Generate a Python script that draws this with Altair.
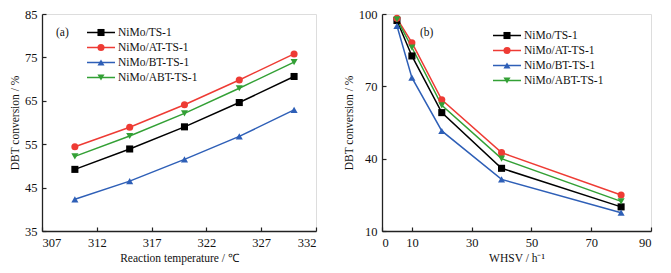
import altair as alt
import pandas as pd

# ---- data ----
series = ["NiMo/TS-1", "NiMo/AT-TS-1", "NiMo/BT-TS-1", "NiMo/ABT-TS-1"]
colors = ["#000000", "#ee3b34", "#2e5fb7", "#33a035"]
shapes = ["square", "circle", "triangle-up", "triangle-down"]

temps = [310, 315, 320, 325, 330]
ts1_a = [49.2, 53.9, 59.0, 64.6, 70.6]
at_a = [54.4, 58.9, 64.1, 69.8, 75.8]
bt_a = [42.3, 46.5, 51.5, 56.8, 62.9]
abt_a = [52.2, 56.9, 62.1, 67.9, 73.9]

whsv = [5, 10, 20, 40, 80]
ts1_b = [97.3, 82.6, 59.1, 36.0, 20.0]
at_b = [98.2, 88.1, 64.4, 42.5, 24.9]
bt_b = [95.1, 73.6, 51.5, 31.4, 17.6]
abt_b = [97.8, 86.1, 62.1, 40.0, 22.3]

xticks_a = [307, 312, 317, 322, 327, 332]
yticks_a = [35, 45, 55, 65, 75, 85]
xticks_b = [0, 10, 30, 50, 70, 90]
yticks_b = [10, 40, 70, 100]

FONT = "Liberation Serif"
W_A, W_B, H = 274, 269, 217


def long_df(xs, ys_list):
    rows = []
    for name, ys in zip(series, ys_list):
        for x, y in zip(xs, ys):
            rows.append({"x": x, "y": y, "name": name})
    return pd.DataFrame(rows)


df_a = long_df(temps, [ts1_a, at_a, bt_a, abt_a])
df_b = long_df(whsv, [ts1_b, at_b, bt_b, abt_b])
legend_df = pd.DataFrame({"name": series, "row": list(range(len(series)))})

color_scale = alt.Scale(domain=series, range=colors)
shape_scale = alt.Scale(domain=series, range=shapes)


def axis(title, values, orient, height):
    dash = [4, 1000] if orient == "left" else [0, height - 4, 4, 1000]
    return alt.Axis(
        title=title, values=values, orient=orient, ticks=False,
        grid=True, gridDash=dash, gridColor="#222222", gridOpacity=1, gridWidth=1.2,
        domainColor="#222222", domainWidth=1.3,
        labelFont=FONT, labelFontSize=12.5, labelColor="#111111", labelPadding=5,
        titleFont=FONT, titleFontSize=11.5, titleFontWeight="normal", titleColor="#111111",
        titlePadding=4,
    )


def panel(df, xdom, xvals, ydom, yvals, xtitle, tag, w, leg_x, leg_y0, tag_x):
    base = alt.Chart(df)
    xenc = alt.X("x:Q", scale=alt.Scale(domain=xdom, nice=False, zero=False),
                 axis=axis(xtitle, xvals, "bottom", H))
    yenc = alt.Y("y:Q", scale=alt.Scale(domain=ydom, nice=False, zero=False),
                 axis=axis("DBT conversion / %", yvals, "left", H))
    lines = base.mark_line(strokeWidth=1.5).encode(
        x=xenc, y=yenc,
        color=alt.Color("name:N", scale=color_scale, legend=None),
        order=alt.Order("x:Q"),
    )
    pts = base.mark_point(filled=True, size=50, opacity=1).encode(
        x=xenc, y=yenc,
        color=alt.Color("name:N", scale=color_scale, legend=None),
        shape=alt.Shape("name:N", scale=shape_scale, legend=None),
    )
    main = alt.layer(lines, pts)

    ly = alt.Y("row:Q", scale=alt.Scale(domain=[0, 3], range=[leg_y0, leg_y0 + 45]), axis=None)
    lbase = alt.Chart(legend_df)
    lrule = lbase.mark_rule(strokeWidth=1.5).encode(
        x=alt.value(leg_x), x2=alt.value(leg_x + 28), y=ly,
        color=alt.Color("name:N", scale=color_scale, legend=None),
    )
    lpt = lbase.mark_point(filled=True, size=50, opacity=1).encode(
        x=alt.value(leg_x + 14), y=ly,
        color=alt.Color("name:N", scale=color_scale, legend=None),
        shape=alt.Shape("name:N", scale=shape_scale, legend=None),
    )
    ltxt = lbase.mark_text(align="left", baseline="middle", font=FONT, fontSize=11.5,
                           color="#111111").encode(
        x=alt.value(leg_x + 31), y=ly, text="name:N",
    )
    tagtxt = alt.Chart(pd.DataFrame({"t": [tag]})).mark_text(
        align="left", baseline="middle", font=FONT, fontSize=11.5, color="#111111"
    ).encode(x=alt.value(tag_x), y=alt.value(19), text="t:N")
    legend = alt.layer(lrule, lpt, ltxt, tagtxt)

    return alt.layer(main, legend).resolve_scale(y="independent").properties(width=w, height=H)


pa = panel(df_a, [307, 332], xticks_a, [35, 85], yticks_a,
           "Reaction temperature / \u2103", "(a)", W_A, 45, 18.5, 14)
pb = panel(df_b, [0, 90], xticks_b, [10, 100], yticks_b,
           "WHSV / h\u207b\u00b9", "(b)", W_B, 111, 21.5, 38)

chart = alt.hconcat(pa, pb, spacing=25).properties(
    padding={"left": 9, "top": 7, "right": 5, "bottom": 5}
).configure_view(stroke="#222222", strokeWidth=1.3).configure(background="white")

chart.save("out.html", embed_options={"renderer": "svg", "actions": False})
